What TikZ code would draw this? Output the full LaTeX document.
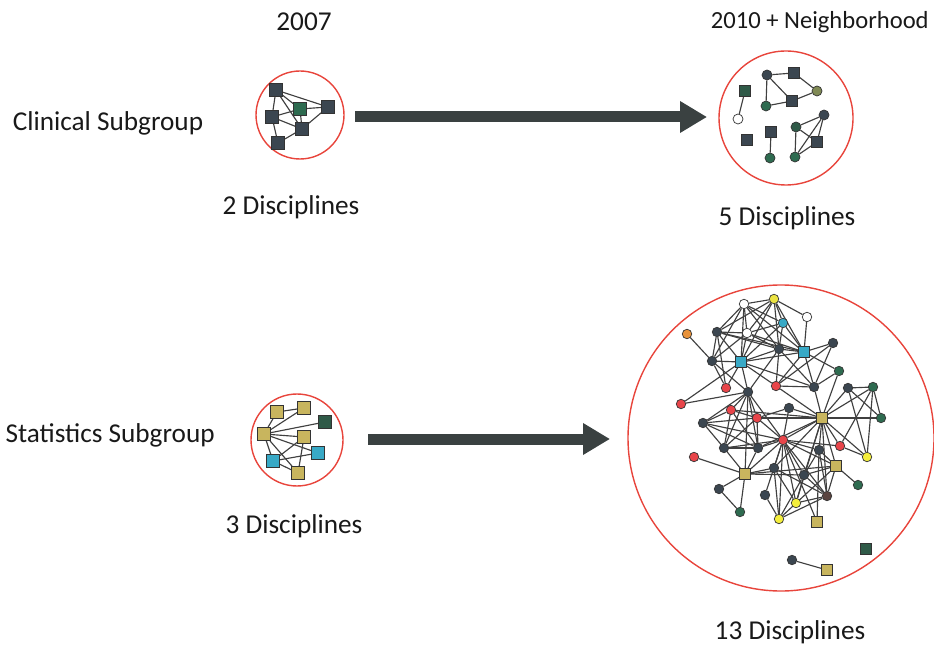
\documentclass[tikz,border=0pt]{standalone}
\usepackage{fontspec}
\setmainfont{Carlito}
\usetikzlibrary{arrows.meta, backgrounds}

\definecolor{slate}{HTML}{3B4650}
\definecolor{ngreen}{HTML}{2E6B50}
\definecolor{dgreen}{HTML}{2F5A48}
\definecolor{nred}{HTML}{E8454A}
\definecolor{khaki}{HTML}{C8B55E}
\definecolor{ncyan}{HTML}{38A9C6}
\definecolor{nyellow}{HTML}{F4EE3C}
\definecolor{norange}{HTML}{E8923A}
\definecolor{olive}{HTML}{808A55}
\definecolor{brown}{HTML}{5A4440}
\definecolor{ringred}{HTML}{E8453C}
\definecolor{linkgray}{HTML}{404040}
\definecolor{arrowgray}{HTML}{3A4141}

\begin{document}
\begin{tikzpicture}[
            x = 0.2mm, y = -0.2mm, % one pixel of the scan
            > = {Triangle[width=6mm, length=5.4mm]}, % big arrow head
            txt/.style = {inner sep=0pt, text=black!90, font=\fontsize{15.5}{18}\selectfont},
            sq/.style = {rectangle, draw=black!80, line width=0.4pt, minimum size=2.6mm, inner sep=0pt},
            dot/.style = {circle, draw=black!80, line width=0.4pt, minimum size=2mm, inner sep=0pt},
            ring/.style = {circle, draw=ringred, line width=0.8pt, inner sep=0pt},
            link/.style = {draw=linkgray, line width=0.65pt},
            bigarrow/.style = {->, draw=arrowgray, line width=2.2mm}
        ]

        \useasboundingbox (0,0) rectangle (934,648);

        % titles and captions
        \node[txt] (y07) at (304,22) {2007};
        \node[txt, anchor=east, font=\fontsize{14}{17}\selectfont] (y10) at (929,22) {2010 + Neighborhood};
        \node[txt] (clin) at (108,123) {Clinical Subgroup};
        \node[txt, anchor=east] (stat) at (215,435) {Statistics Subgroup};
        \node[txt] (d2) at (291,207) {2 Disciplines};
        \node[txt] (d5) at (787,218) {5 Disciplines};
        \node[txt] (d3) at (294,526) {3 Disciplines};
        \node[txt] (d13) at (790,632) {13 Disciplines};

        % red rings
        \node[ring, minimum size=17.6mm] (clin07) at (300,115) {};
        \node[ring, minimum size=26.8mm] (clin10) at (786,118) {};
        \node[ring, minimum size=18.4mm] (stat07) at (297,440) {};
        \node[ring, minimum size=61.2mm] (stat10) at (781,438) {};

        % arrows
        \coordinate (a1s) at (355,117);
        \coordinate (a1e) at (707,117);
        \coordinate (a2s) at (368,439);
        \coordinate (a2e) at (610,439);
        \draw[bigarrow] (a1s) -- (a1e);
        \draw[bigarrow] (a2s) -- (a2e);

        % clinical 2007
        \node[sq, fill=slate] (ca) at (276,90) {};
        \node[sq, fill=ngreen] (cb) at (300,109) {};
        \node[sq, fill=slate] (cc) at (328,107) {};
        \node[sq, fill=slate] (cd) at (272,117) {};
        \node[sq, fill=slate] (ce) at (302,129) {};
        \node[sq, fill=slate] (cf) at (278,143) {};

        % statistics 2007
        \node[sq, fill=khaki] (sa) at (277,412) {};
        \node[sq, fill=khaki] (sb) at (304,408) {};
        \node[sq, fill=dgreen] (sc) at (325,422) {};
        \node[sq, fill=khaki] (sd) at (264,434) {};
        \node[sq, fill=khaki] (se) at (304,437) {};
        \node[sq, fill=ncyan] (sf) at (318,453) {};
        \node[sq, fill=ncyan] (sg) at (273,461) {};
        \node[sq, fill=khaki] (sh) at (298,473) {};

        \begin{scope}[sq/.append style={minimum size=2.2mm}]
        % clinical 2010
        \node[sq, fill=dgreen] (ka) at (745,91) {};
        \node[dot, fill=white] (kb) at (738,119) {};
        \node[dot, fill=slate] (kc) at (767,75) {};
        \node[sq, fill=slate] (kd) at (794,73) {};
        \node[dot, fill=olive] (ke) at (817,91) {};
        \node[dot, fill=ngreen] (kf) at (766,106) {};
        \node[sq, fill=slate] (kg) at (792,101) {};
        \node[sq, fill=slate] (kh) at (747,140) {};
        \node[sq, fill=slate] (ki) at (771,132) {};
        \node[dot, fill=ngreen] (kj) at (770,158) {};
        \node[dot, fill=dgreen] (kk) at (796,127) {};
        \node[dot, fill=slate] (kl) at (824,115) {};
        \node[sq, fill=slate] (km) at (817,142) {};
        \node[dot, fill=ngreen] (kn) at (795,157) {};
        \end{scope}

        \begin{scope}[sq/.append style={minimum size=2.1mm}, dot/.append style={minimum size=1.9mm}]
        % statistics 2010 + neighborhood
        \node[dot, fill=white] (t1) at (744,304) {};
        \node[dot, fill=nyellow!80!khaki] (t2) at (774,299) {};
        \node[dot, fill=ncyan] (t3) at (783,323) {};
        \node[dot, fill=white] (t4) at (807,317) {};
        \node[dot, fill=norange] (o1) at (687,334) {};
        \node[dot, fill=slate] (t5) at (717,332) {};
        \node[dot, fill=white] (t6) at (747,333) {};
        \node[dot, fill=slate] (t7) at (779,349) {};
        \node[sq, fill=ncyan] (q1) at (804,352) {};
        \node[dot, fill=slate] (t8) at (833,343) {};
        \node[dot, fill=slate] (t9) at (712,361) {};
        \node[sq, fill=ncyan] (q2) at (741,362) {};
        \node[dot, fill=ngreen] (g1) at (839,371) {};
        \node[dot, fill=nred] (r1) at (726,388) {};
        \node[dot, fill=slate] (h1) at (748,392) {};
        \node[dot, fill=nred] (r2) at (776,386) {};
        \node[dot, fill=slate] (m1) at (814,387) {};
        \node[dot, fill=slate] (e1) at (848,388) {};
        \node[dot, fill=ngreen] (e2) at (873,387) {};
        \node[dot, fill=nred] (r3) at (681,404) {};
        \node[dot, fill=nred] (r4) at (731,410) {};
        \node[dot, fill=slate] (d1) at (789,408) {};
        \node[sq, fill=khaki] (q3) at (822,418) {};
        \node[dot, fill=nred] (r5) at (757,418) {};
        \node[dot, fill=slate] (d2) at (703,423) {};
        \node[dot, fill=ngreen] (e3) at (881,418) {};
        \node[dot, fill=nred] (r6) at (783,440) {};
        \node[dot, fill=slate] (d3) at (724,448) {};
        \node[dot, fill=slate] (d4) at (758,448) {};
        \node[dot, fill=slate] (d5) at (819,450) {};
        \node[dot, fill=nred] (r7) at (840,446) {};
        \node[dot, fill=nyellow] (y1) at (867,457) {};
        \node[dot, fill=nred] (r8) at (694,457) {};
        \node[sq, fill=khaki] (q4) at (745,474) {};
        \node[dot, fill=slate] (d6) at (774,468) {};
        \node[sq, fill=khaki] (q5) at (836,466) {};
        \node[dot, fill=slate] (d7) at (804,475) {};
        \node[dot, fill=slate] (d8) at (719,489) {};
        \node[dot, fill=slate] (d9) at (765,495) {};
        \node[dot, fill=ngreen] (g2) at (858,485) {};
        \node[dot, fill=brown] (b1) at (827,496) {};
        \node[dot, fill=nyellow] (y2) at (796,503) {};
        \node[dot, fill=ngreen] (g3) at (740,512) {};
        \node[dot, fill=nyellow] (y3) at (779,519) {};
        \node[sq, fill=khaki] (q6) at (817,522) {};
        \node[sq, fill=dgreen] (s1) at (866,549) {};
        \node[dot, fill=slate] (s2) at (792,560) {};
        \node[sq, fill=khaki] (q7) at (827,570) {};
        \end{scope}

        \begin{scope}[on background layer]
        \path[link] (ca) edge (cb) edge (cc) edge (cd) edge (ce);
        \path[link] (cb) edge (cc) edge (cd) edge (ce);
        \path[link] (cd) edge (ce) edge (cf);
        \path[link] (ce) edge (cf) edge (cc);

        \path[link] (sa) edge (sb) edge (sd);
        \path[link] (sd) edge (sb) edge (sc) edge (se) edge (sf) edge (sg) edge (sh);
        \path[link] (se) edge (sg) edge (sh);
        \path[link] (sg) edge (sf) edge (sh);

        \path[link] (ka) edge (kb);
        \path[link] (kc) edge (kd) edge (kf) edge (kg);
        \path[link] (ke) edge (kd) edge (kg);
        \path[link] (kf) edge (kg);
        \path[link] (ki) edge (kj);
        \path[link] (kk) edge (kl) edge (kn) edge (km);
        \path[link] (kl) edge (km) edge (kn);
        \path[link] (km) edge (kn);

        \path[link] (t1) edge (t2) edge (t5) edge (t6) edge (t7) edge (q2) edge (q1) edge (t3) edge (t9);
        \path[link] (t2) edge (t3) edge (t4) edge (t6) edge (t7) edge (q2) edge (q1) edge (t5);
        \path[link] (t3) edge (t6) edge (t7) edge (q1) edge (q2);
        \path[link] (t4) edge (q1);
        \path[link] (o1) edge (t9);
        \path[link] (t5) edge (t6) edge (q2) edge (t9) edge (t7) edge (q1) edge (r1);
        \path[link] (t6) edge (q2) edge (t7) edge (q1) edge (t9);
        \path[link] (t7) edge (q1) edge (q2) edge (r2) edge (m1) edge (h1);
        \path[link] (q1) edge (t8) edge (q2) edge (m1) edge (r2) edge (g1);
        \path[link] (t8) edge (m1) edge (r2);
        \path[link] (t9) edge (q2) edge (r1) edge (h1);
        \path[link] (q2) edge (h1) edge (r1) edge (r2) edge (m1) edge (r3);
        \path[link] (g1) edge (m1) edge (q3);
        \path[link] (h1) edge (r3) edge (r4) edge (r5) edge (d2) edge (d3) edge (d4) edge (r6) edge (q4);
        \path[link] (r2) edge (m1) edge (q3);
        \path[link] (m1) edge (q3);
        \path[link] (e1) edge (e2) edge (q3) edge (e3) edge (y1);
        \path[link] (e2) edge (e3) edge (q3) edge (y1) edge (r7);
        \path[link] (q3) edge (d1) edge (r6) edge (r5) edge (e3) edge (r7) edge (d5) edge (d6) edge (d7)
                         edge (q5) edge (b1) edge (y2) edge (d4) edge (r4) edge (y1);
        \path[link] (d1) edge (r6) edge (r5);
        \path[link] (r4) edge (d2) edge (d3) edge (d4) edge (r5);
        \path[link] (r5) edge (d2) edge (d3) edge (d4) edge (r6);
        \path[link] (d2) edge (d3) edge (d4) edge (r6);
        \path[link] (r6) edge (d3) edge (d4) edge (d5) edge (r7) edge (q4) edge (d6) edge (d7) edge (q5)
                         edge (b1) edge (y2) edge (y3) edge (d9) edge (q6);
        \path[link] (d3) edge (d4) edge (q4);
        \path[link] (d4) edge (q4);
        \path[link] (r8) edge (q4);
        \path[link] (q4) edge (d6) edge (d8) edge (g3) edge (q5) edge (d7);
        \path[link] (d8) edge (g3);
        \path[link] (d5) edge (q5) edge (d7) edge (b1) edge (q6);
        \path[link] (r7) edge (y1);
        \path[link] (q5) edge (g2) edge (d7) edge (b1) edge (y3);
        \path[link] (d6) edge (y3) edge (y2) edge (b1);
        \path[link] (d7) edge (y2) edge (b1) edge (y3);
        \path[link] (d9) edge (y3);
        \path[link] (y2) edge (b1);
        \path[link] (b1) edge (y3);
        \path[link] (s2) edge (q7);
        \end{scope}

  \end{tikzpicture}
\end{document}
